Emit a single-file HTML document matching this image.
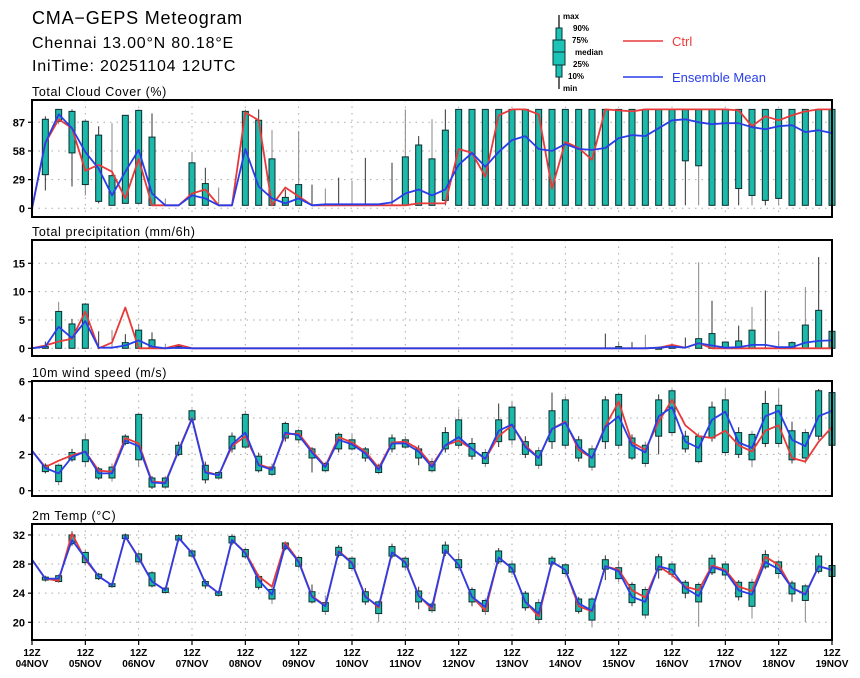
<!DOCTYPE html>
<html><head><meta charset="utf-8">
<style>
html,body{margin:0;padding:0;background:#fff;}
svg{display:block;font-family:"Liberation Sans",sans-serif;}
.tk{font-size:11px;font-weight:bold;fill:#000;}
.pt{font-size:12.5px;fill:#000;letter-spacing:0.6px;}
.xl{font-size:10px;font-weight:bold;fill:#000;}
.lg{font-size:8px;font-weight:bold;fill:#000;}
</style></head>
<body>
<svg id="chart" width="860" height="678" viewBox="0 0 860 678">
  <text x="32" y="24" style="font-size:18px;letter-spacing:0.8px">CMA−GEPS Meteogram</text>
  <text x="32" y="48" style="font-size:16px;letter-spacing:0.8px">Chennai 13.00°N 80.18°E</text>
  <text x="32" y="71" style="font-size:16px;letter-spacing:0.8px">IniTime: 20251104 12UTC</text>
  <g>
    <line x1="559" y1="15" x2="559" y2="89" stroke="#000" stroke-width="1.2"/>
    <rect x="556" y="28" width="6" height="49" fill="#1cc4b8" stroke="#103030"/>
    <rect x="553" y="40" width="12" height="25" fill="#1cc4b8" stroke="#103030"/>
    <line x1="553" y1="52" x2="565" y2="52" stroke="#103030"/>
    <text class="lg" x="563" y="19">max</text>
    <text class="lg" x="573" y="31">90%</text>
    <text class="lg" x="572" y="43">75%</text>
    <text class="lg" x="575" y="55">median</text>
    <text class="lg" x="573" y="67">25%</text>
    <text class="lg" x="568" y="79">10%</text>
    <text class="lg" x="563" y="91">min</text>
  </g>
  <g>
    <line x1="623" y1="41" x2="663" y2="41" stroke="#e83a3a" stroke-width="1.5"/>
    <text x="672" y="46" style="font-size:13px;fill:#e83a3a">Ctrl</text>
  </g>
  <g>
    <line x1="623" y1="77" x2="663" y2="77" stroke="#2a3ee8" stroke-width="1.5"/>
    <text x="672" y="82" style="font-size:13px;fill:#2a3ee8">Ensemble Mean</text>
  </g>
</svg>
<script>
// ---- Total cloud cover (%) ----
const cloudMean=[0,66,95,81,57,40,13,37,59,15,3,3,13,10,3,3,60,22,10,5,10,3,4,4,4,4,4,6,15,19,13,19,44,56,42,57,69,73,60,58,65,60,59,61,71,74,73,81,89,90,87,85,86,86,82,80,83,84,77,79,76];
const cloudCtrl=[0,66,90,81,38,44,37,10,50,3,3,3,15,19,3,3,97,89,3,21,12,3,3,3,3,3,3,3,3,5,5,5,60,56,32,94,100,100,95,20,67,61,49,100,99,98,100,100,100,100,100,100,100,99,83,93,89,94,98,100,100];
const cloudLo=[null,34,88,56,24,7,3,5,5,3,null,null,3,3,null,null,3,3,3,3,3,null,null,null,null,null,null,null,3,3,3,8,3,3,3,3,3,3,3,3,3,3,3,3,3,3,3,3,3,48,43,3,3,20,13,8,10,3,3,3,3];
const cloudHi=[null,90,100,98,88,74,33,94,99,72,null,null,46,25,null,null,98,89,50,11,24,null,null,null,null,null,null,null,52,64,50,79,100,100,100,100,100,100,100,100,100,100,100,100,100,100,100,100,100,100,100,100,100,100,100,100,100,100,100,100,100];
const cloudMin=[null,18,85,22,13,5,3,5,5,3,3,null,3,3,3,null,3,3,3,3,3,3,3,3,3,3,3,3,3,3,3,3,3,3,3,3,3,3,3,3,3,3,3,3,3,3,3,3,3,3,3,3,3,3,3,3,3,3,3,3,3];
const cloudMax=[null,93,100,100,90,83,86,94,100,96,10,null,57,41,21,null,100,100,79,19,78,24,20,31,28,51,3,46,100,73,90,100,100,100,100,100,100,100,100,100,100,100,100,100,100,100,100,100,100,100,100,100,100,100,100,100,100,100,100,100,100];
const cloudTicks=[0,29,58,87];
// ---- Total precipitation (mm/6h) ----
const precMean=[0,0.3,3.8,1.8,4.8,0.1,0.1,0.5,1.4,0.3,0,0.1,0,0,0,0,0,0,0,0,0,0,0,0,0,0,0,0,0,0,0,0,0,0,0,0,0,0,0,0,0,0,0,0,0,0,0,0.1,0.3,0.1,0.9,0.5,0.1,0.2,0.6,0.6,0.2,0.2,1.0,1.3,1.4];
const precCtrl=[0,0.5,1.2,1.7,6.5,0,1.0,7.2,0,0,0,0.6,0,0,0,0,0,0,0,0,0,0,0,0,0,0,0,0,0,0,0,0,0,0,0,0,0,0,0,0,0,0,0,0,0,0,0,0.1,0.6,0.1,0.9,0,0,0,0,0,0,0,0,0,0];
const precHi=[null,0.3,6.5,4.3,7.8,null,null,1.0,3.2,1.5,null,0.3,null,null,null,null,null,null,null,null,null,null,null,null,null,null,null,null,null,null,null,null,null,null,null,null,null,null,null,null,null,null,null,null,0.3,null,null,0.1,0.5,null,1.7,2.6,1.1,1.3,3.2,null,null,1.0,4.1,6.7,3.0];
const precMax=[null,1.2,8.2,5.2,8.0,3.0,3.2,2.5,4.3,2.8,0.8,0.5,null,null,null,null,null,null,null,null,null,null,null,null,null,null,null,null,null,null,null,null,null,null,null,null,null,null,null,null,null,null,null,2.6,1.2,1.1,2.4,0.3,0.9,1.9,15.2,8.4,1.2,4.0,7.3,10.2,3.0,1.2,10.8,16.1,3.2];
const precTicks=[0,5,10,15];
// ---- 10m wind speed (m/s) ----
const windMean=[2.2,1.25,0.95,1.85,2.15,0.95,0.95,2.75,2.45,0.45,0.4,2.2,3.95,1.0,0.85,2.55,3.2,1.4,1.15,3.2,3.05,2.1,1.3,2.8,2.55,2.05,1.15,2.6,2.6,2.15,1.3,2.5,2.95,2.3,1.75,3.3,3.65,2.4,1.8,3.4,3.75,2.4,1.8,3.5,4.1,2.5,2.1,4.1,4.6,2.7,2.35,3.9,4.35,2.65,2.35,4.1,4.4,2.8,2.45,4.1,4.4];
const windCtrl=[2.2,1.3,1.65,1.95,2.15,1.1,1.05,2.9,2.6,0.5,0.45,2.25,4.0,1.05,0.85,2.45,3.0,1.45,1.2,3.1,3.15,2.2,1.35,2.95,2.65,2.15,1.25,2.65,2.7,2.3,1.4,2.5,2.75,2.3,1.75,3.0,3.6,2.5,1.8,3.4,3.8,2.25,1.8,3.55,4.9,2.65,2.25,3.8,5.0,3.6,3.0,2.9,3.3,2.5,2.15,3.3,3.6,1.8,1.6,2.7,3.5];
const windLo=[null,1.05,0.5,1.7,1.6,0.7,0.7,2.6,1.7,0.2,0.2,2.0,3.9,0.6,0.7,2.3,2.4,1.1,0.9,2.9,2.8,1.8,1.1,2.3,2.3,1.8,1.0,2.3,2.4,1.8,1.1,2.3,2.5,1.9,1.5,2.7,2.8,2.0,1.4,2.7,2.5,1.8,1.3,2.7,2.5,1.8,1.5,3.0,3.2,2.3,1.6,2.9,2.1,2.0,1.7,2.6,2.6,1.7,1.8,3.0,2.5];
const windHi=[null,1.4,1.4,2.1,2.8,1.2,1.3,3.0,4.2,0.7,0.7,2.5,4.4,1.4,1.0,3.0,4.2,1.9,1.3,3.7,3.3,2.3,1.5,3.1,2.8,2.3,1.4,2.9,2.8,2.3,1.6,3.2,3.9,2.6,2.1,3.9,4.6,2.7,2.2,4.4,5.0,2.8,2.3,5.0,5.3,2.9,2.5,5.0,5.5,3.0,3.0,4.6,5.0,3.2,3.1,4.8,4.7,3.3,3.2,5.5,5.4];
const windMin=[null,0.95,0.3,1.6,1.3,0.6,0.5,2.5,1.3,0.1,0.1,1.9,3.8,0.4,0.6,2.1,2.3,1.0,0.8,2.7,2.6,1.0,1.0,2.1,2.2,1.6,0.9,2.1,2.3,1.4,1.0,2.1,2.3,1.7,1.3,2.4,2.5,1.8,1.2,2.3,2.3,1.6,1.1,2.3,2.3,1.7,1.3,2.0,3.0,2.1,1.5,2.7,1.9,1.8,1.3,2.4,2.4,1.5,1.5,2.8,2.3];
const windMax=[null,1.5,1.5,2.3,3.1,1.3,1.5,3.1,4.3,0.8,0.8,2.7,4.5,1.6,1.1,3.2,4.4,2.1,1.5,3.8,3.4,2.4,1.6,3.2,3.1,2.4,1.5,3.1,3.0,2.5,1.8,3.5,4.5,2.9,2.3,4.8,4.9,3.0,2.4,5.4,5.2,3.0,2.5,5.2,5.4,3.1,2.7,5.3,5.6,3.3,3.2,4.9,5.6,3.5,3.3,5.5,5.6,3.8,3.4,5.6,5.6];
const windTicks=[0,2,4,6];
// ---- 2m temperature (°C) ----
const tempMean=[28.6,26.0,26.0,31.3,28.8,26.3,25.1,31.8,28.8,25.6,24.4,31.6,29.5,25.4,24.0,31.3,29.5,25.8,23.8,30.6,28.3,23.5,22.2,29.7,28.1,23.5,22.2,29.6,28.2,23.6,22.1,29.9,27.9,23.5,22.1,28.9,27.4,22.8,21.2,28.3,27.2,22.6,21.6,27.7,27.0,23.5,22.8,27.7,27.2,24.7,23.6,27.6,27.0,24.4,23.8,28.3,27.3,24.7,23.8,27.7,27.2];
const tempCtrl=[28.6,26.0,25.7,32.2,28.6,26.3,25.1,31.8,28.9,25.6,24.4,31.6,29.5,25.4,24.0,31.3,29.6,26.3,24.9,30.9,28.4,23.6,22.3,29.8,28.2,23.6,22.0,29.6,28.3,23.7,21.8,29.9,27.9,23.5,21.6,28.9,27.4,22.8,20.8,28.3,27.2,22.2,21.5,27.7,27.2,24.4,23.4,27.7,26.5,24.9,24.4,27.8,27.2,24.9,24.3,29.0,27.9,24.7,23.9,27.7,27.2];
const tempLo=[null,25.8,25.6,30.8,28.2,26.0,24.9,31.5,28.3,25.0,24.1,31.3,29.1,25.0,23.7,30.9,29.0,24.8,23.2,30.1,27.7,22.8,21.5,29.2,27.4,22.8,21.2,29.1,27.6,22.8,21.6,29.5,27.5,22.8,21.5,28.3,26.9,22.0,20.4,28.0,26.7,21.5,20.3,27.3,26.0,22.7,21.0,27.2,26.6,24.0,22.8,26.8,26.5,23.5,22.2,27.6,26.7,23.9,23.0,27.0,26.3];
const tempHi=[null,26.2,26.4,32.0,29.6,26.6,25.3,32.0,29.4,26.8,24.7,31.9,29.8,25.6,24.2,31.8,30.0,26.3,24.5,30.9,28.9,24.2,22.7,30.3,28.8,24.2,22.8,30.4,28.8,24.3,22.5,30.6,28.6,24.5,23.0,29.8,28.0,24.0,22.7,28.8,27.9,23.2,23.2,28.6,27.5,25.2,24.5,29.0,28.0,25.5,25.2,28.8,28.0,25.5,25.5,29.3,28.3,25.4,25.0,29.1,27.8];
const tempMin=[null,25.6,25.4,30.5,27.8,25.8,24.7,31.3,27.9,24.8,23.9,31.1,28.8,24.6,23.5,30.6,28.7,24.5,22.5,29.9,27.4,22.6,21.0,28.9,27.0,22.4,20.0,28.8,27.2,21.8,21.3,29.1,27.1,22.2,21.0,28.0,26.5,21.6,19.8,27.7,26.4,21.2,19.3,25.8,25.5,22.2,20.5,26.0,26.1,23.3,19.4,26.5,25.8,23.0,20.5,27.3,26.0,22.8,20.0,26.7,26.0];
const tempMax=[null,26.4,26.6,32.5,30.0,26.8,25.5,32.2,29.7,27.0,24.9,32.1,30.1,25.9,24.4,32.1,30.3,26.6,25.0,31.1,29.2,25.2,23.7,30.6,29.1,24.7,23.0,30.8,29.1,24.9,22.8,31.1,29.5,24.8,23.3,30.2,28.5,24.3,23.2,29.1,28.1,23.5,23.5,29.2,28.5,25.5,24.9,29.4,28.4,25.8,25.5,29.3,28.4,25.8,26.0,29.9,28.6,25.7,25.3,29.5,28.1];
const tempTicks=[20,24,28,32];
const dayLabels=["04NOV","05NOV","06NOV","07NOV","08NOV","09NOV","10NOV","11NOV","12NOV","13NOV","14NOV","15NOV","16NOV","17NOV","18NOV","19NOV"];

const NS="http://www.w3.org/2000/svg";
const svg=document.getElementById("chart");
const X0=32,X1=832,NSTEP=60;
function xPos(i){return X0+(X1-X0)*i/NSTEP;}
function mk(tag,attrs,parent){const e=document.createElementNS(NS,tag);for(const k in attrs)e.setAttribute(k,attrs[k]);(parent||svg).appendChild(e);return e;}

const panels=[
 {key:"cloud-cover",title:"Total Cloud Cover (%)",top:100,bot:217,v0:0,p0:208.3,scale:0.989,ticks:cloudTicks,mean:cloudMean,ctrl:cloudCtrl,lo:cloudLo,hi:cloudHi,mn:cloudMin,mx:cloudMax},
 {key:"precipitation",title:"Total precipitation (mm/6h)",top:240,bot:356,v0:0,p0:348.3,scale:5.667,ticks:precTicks,mean:precMean,ctrl:precCtrl,lo:null,hi:precHi,mn:null,mx:precMax},
 {key:"wind-speed",title:"10m wind speed (m/s)",top:381,bot:496,v0:0,p0:490.7,scale:18.17,ticks:windTicks,mean:windMean,ctrl:windCtrl,lo:windLo,hi:windHi,mn:windMin,mx:windMax},
 {key:"temperature",title:"2m Temp (°C)",top:524,bot:640,v0:20,p0:622.3,scale:7.28,ticks:tempTicks,mean:tempMean,ctrl:tempCtrl,lo:tempLo,hi:tempHi,mn:tempMin,mx:tempMax}
];

panels.forEach(function(P){
  const yv=function(v){return P.p0-(v-P.v0)*P.scale;};
  const g=mk("g",{});
  
  
  const t=mk("text",{x:32,y:P.top-4,class:"pt"},g);t.textContent=P.title;
  
  
  // grid
  P.ticks.forEach(function(v){
    const y=yv(v);
    const gl=mk("line",{x1:X0,x2:X1,y1:y,y2:y,stroke:"#aaa","stroke-width":1,"stroke-dasharray":"1.5,5"},g);
    
    
    const tk=mk("line",{x1:X0-4,x2:X0,y1:y,y2:y,stroke:"#000","stroke-width":1.2},g);
    
    
    const tl=mk("text",{x:X0-7,y:y+4,class:"tk","text-anchor":"end"},g);tl.textContent=String(v);
    
    
  });
  for(let d=1;d<dayLabels.length-1;d++){
    const x=xPos(d*4);
    const vl=mk("line",{x1:x,x2:x,y1:P.top,y2:P.bot,stroke:"#aaa","stroke-width":1,"stroke-dasharray":"1.5,5"},g);
    
    
  }
  // boxes
  for(let i=0;i<=NSTEP;i++){
    const x=xPos(i);
    if(P.mx[i]!=null){
      const lowW=(P.mn?P.mn[i]:0);
      const w=mk("line",{x1:x,x2:x,y1:yv(P.mx[i]),y2:yv(lowW),stroke:(i%2?"#333":"#888"),"stroke-width":1},g);
      
      
    }
    if(P.hi[i]!=null){
      const lo=P.lo?P.lo[i]:0;
      const y1=yv(P.hi[i]),y2=yv(lo);
      const b=mk("rect",{x:x-3,y:y1,width:6,height:Math.max(1.5,y2-y1),fill:"#1cb8aa",stroke:"#0d2e2e","stroke-width":1},g);
      
      
    }
  }
  // lines
  function poly(arr,color,name){
    let pts=[];for(let i=0;i<=NSTEP;i++)pts.push(xPos(i).toFixed(1)+","+yv(arr[i]).toFixed(1));
    const p=mk("polyline",{points:pts.join(" "),fill:"none",stroke:color,"stroke-width":1.8,"stroke-linejoin":"round"},g);
    
    
  }
  poly(P.ctrl,"#e83a3a",P.key+'-ctrl-line');
  poly(P.mean,"#2a3ee8",P.key+'-mean-line');
  const fr=mk("rect",{x:X0,y:P.top,width:X1-X0,height:P.bot-P.top,fill:"none",stroke:"#000","stroke-width":2},g);
  
  
});

// x axis labels
const xg=mk("g",{});


for(let d=0;d<dayLabels.length;d++){
  const x=xPos(d*4);
  const tk=mk("line",{x1:x,x2:x,y1:640,y2:645,stroke:"#000","stroke-width":1.2},xg);
  
  
  const a=mk("text",{x:x,y:656,class:"xl","text-anchor":"middle"},xg);a.textContent="12Z";
  
  
  const b=mk("text",{x:x,y:667,class:"xl","text-anchor":"middle"},xg);b.textContent=dayLabels[d];
  
  
}
</script>
</body></html>
